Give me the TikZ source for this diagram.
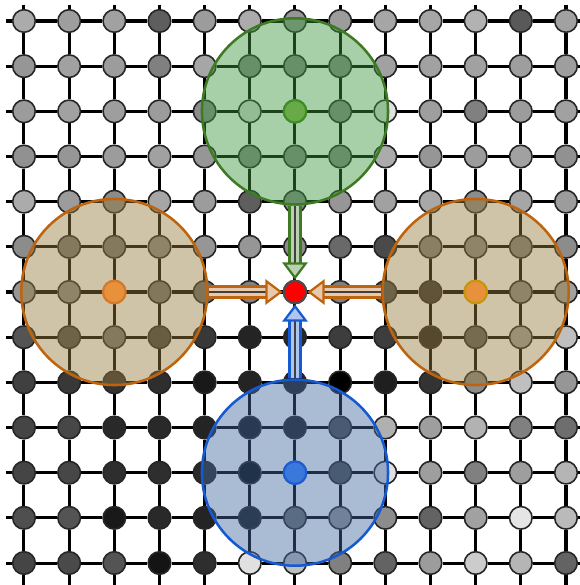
\documentclass[tikz,border=0pt]{standalone}
\usepackage{xcolor}
\usepackage{tikz}
\usetikzlibrary{arrows.meta}
\definecolor{greenfill}{RGB}{62,151,62}
\definecolor{tanfill}{RGB}{151,124,62}
\definecolor{bluefill}{RGB}{67,104,160}
\definecolor{greenline}{RGB}{62,122,36}
\definecolor{orangeline}{RGB}{190,100,15}
\definecolor{blueline}{RGB}{22,90,210}
\tikzstyle{site} = [circle, draw=black!85, line width=1pt, minimum size=0.5cm, inner sep=0pt]
\tikzstyle{link} = [line width=1.9pt, black]

\begin{document}
\begin{tikzpicture}[
    zone/.style={circle, minimum size=4.12cm, inner sep=0pt, fill=#1, fill opacity=0.45, line width=1.6pt},
    hub/.style={circle, minimum size=0.5cm, inner sep=0pt, line width=1.4pt},
    flow/.style={line width=1.6pt, draw=black!75,
        -{Triangle[open, color=#1, fill=#1!35, line width=1.4pt, length=0.38cm, width=0.56cm]},
        preaction={draw=#1, line width=1.4pt, double=#1!35, double distance=5.5pt, -, shorten >=0.36cm}}
]
    \clip (-0.531,0.465) rectangle (12.31,-12.487);

    % Grey sites, one list of shades (black %) per row
    \foreach \shades [count=\r from 0] in {
        {33,38,37,63,39,33,41,39,35,35,30,65,37},
        {41,37,39,50,35,45,45,45,37,37,37,38,38},
        {39,37,38,39,45,14,45,45,12,38,50,39,37},
        {43,41,39,37,41,45,45,45,33,41,39,37,43},
        {33,39,45,35,39,63,45,41,37,34,45,35,39},
        {45,53,53,45,41,41,45,59,71,49,45,49,45},
        {41,45,45,55,57,49,0,50,69,80,45,45,37},
        {67,69,53,73,78,86,84,76,76,88,63,37,25},
        {75,78,80,82,90,86,88,100,88,80,45,25,41},
        {73,72,84,84,86,92,88,69,31,38,30,50,57},
        {73,72,82,82,84,98,50,69,12,38,50,38,29},
        {69,67,90,84,86,90,57,41,45,61,37,10,27},
        {73,71,67,92,82,12,25,50,61,39,20,29,61}} {
        \foreach \p [count=\c from 0] in \shades
            \node[site, fill=black!\p] (n-\c-\r) at (\c,-\r) {};
    }

    % Free ends of the lattice lines
    \foreach \i in {0,...,12} {
        \coordinate (w-\i) at (-0.4,-\i);
        \coordinate (e-\i) at (12.5,-\i);
        \coordinate (t-\i) at (\i,0.36);
        \coordinate (b-\i) at (\i,-12.6);
    }

    % Lattice links
    \foreach \r in {0,...,12} {
        \draw[link] (w-\r) -- (n-0-\r);
        \draw[link] (n-12-\r) -- (e-\r);
        \draw[link] (t-\r) -- (n-\r-0);
        \draw[link] (n-\r-12) -- (b-\r);
        \foreach \c [evaluate=\c as \d using int(\c+1)] in {0,...,11} {
            \draw[link] (n-\c-\r) -- (n-\d-\r);
            \draw[link] (n-\r-\c) -- (n-\r-\d);
        }
    }

    % Neighbourhoods
    \node[zone=greenfill, draw=greenline] (gzone) at (6,-2) {};
    \node[zone=tanfill, draw=orangeline] (lzone) at (2,-6) {};
    \node[zone=tanfill, draw=orangeline] (rzone) at (10,-6) {};
    \node[zone=bluefill, draw=blueline] (bzone) at (6,-10) {};

    % Centres
    \node[hub, fill={rgb,255:red,104;green,170;blue,72}, draw={rgb,255:red,64;green,140;blue,40}] (gc) at (6,-2) {};
    \node[hub, fill={rgb,255:red,232;green,145;blue,60}, draw={rgb,255:red,214;green,122;blue,40}] (lc) at (2,-6) {};
    \node[hub, fill={rgb,255:red,232;green,145;blue,60}, draw={rgb,255:red,200;green,150;blue,10}] (rc) at (10,-6) {};
    \node[hub, fill={rgb,255:red,58;green,120;blue,220}, draw={rgb,255:red,30;green,92;blue,212}] (bc) at (6,-10) {};
    \node[hub, fill=red, draw=black!70] (target) at (6,-6) {};

    % Flows into the target
    \draw[flow=greenline] (gzone.south) -- (target.north);
    \draw[flow=orangeline] (lzone.east) -- (target.west);
    \draw[flow=orangeline] (rzone.west) -- (target.east);
    \draw[flow=blueline] (bzone.north) -- (target.south);
\end{tikzpicture}
\end{document}
